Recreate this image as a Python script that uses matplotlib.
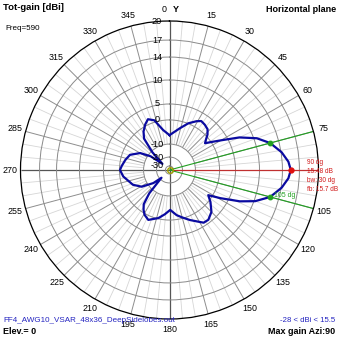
import matplotlib
matplotlib.use("Agg")
import matplotlib.pyplot as plt
import numpy as np

plt.rcParams['font.family'] = ['Liberation Sans', 'DejaVu Sans']

# horizontal-plane pattern: azimuth (deg, clockwise from Y) and total gain (dBi)
azimuth = [0, 14, 22, 29, 33, 38, 43, 47, 50, 53, 57, 60, 65, 70, 75, 81, 86, 90,
           94, 99, 105, 110, 114, 119, 123, 128, 135, 142, 147, 150, 158, 165, 171,
           179, 186, 193, 203, 209, 213, 217, 221, 226, 231, 239, 248, 262, 270, 275,
           283, 291, 300, 306, 311, 316, 321, 326, 332, 337, 343, 351, 360]
gain = [-6.3, -2.9, 0.1, 1.8, 2.6, 2.3, 1.8, 0.6, -1.0, -2.3, 0.6, 2.9, 7.3, 10.5,
        12.48, 14.1, 15.1, 15.48, 15.1, 14.1, 12.48, 10.2, 7.3, 2.5, -1.6, 0.6, 2.9,
        4.1, 4.0, 3.1, 1.2, -0.4, -1.8, -4.2, -2.3, -0.3, 1.3, 0.4, -1.0, -3.0, -8.0,
        -22.0, -14.0, -7.3, -4.4, -1.4, -0.22, -0.9, -2.0, -3.2, -6.7, -12.0, -24.0,
        -11.0, -4.0, -1.5, 0.5, 1.6, 0.6, -4.0, -6.3]

max_az = 90
max_gain = 15.48
beamwidth = 30
front_back = 15.7
freq = 590
gain_range = (-28, 15.5)
file_name = "FF4_AWG10_VSAR_48x36_DeepSidelobes.out"

# log-like radial scale of the dB rings
ring_db = [-33, -30, -20, -10, 0, 5, 10, 14, 17, 20]
ring_pos = [0.0, 0.027, 0.087, 0.174, 0.336, 0.443, 0.604, 0.758, 0.872, 1.0]


def fwd(v):
    return np.interp(np.asarray(v, dtype=float), ring_db, ring_pos)


def inv(v):
    return np.interp(np.asarray(v, dtype=float), ring_pos, ring_db)


W = 339
fig = plt.figure(figsize=(3.39, 3.39), dpi=100)
fig.patch.set_facecolor('white')

cx, cy, R = 169.5, 169.0, 149.0
ax = fig.add_axes([(cx - R) / W, (cy - R) / W, 2 * R / W, 2 * R / W], projection='polar')
ax.set_theta_zero_location('N')
ax.set_theta_direction(-1)
ax.set_yscale('function', functions=(fwd, inv))
ax.set_ylim(-33, 20)

# rings
ax.set_yticks(ring_db[1:-1])
ax.set_yticklabels([])
ax.set_xticks([])
ax.yaxis.grid(True, color='#8a8a8a', lw=0.7)
ax.xaxis.grid(False)
ax.spines['polar'].set_color('black')
ax.spines['polar'].set_linewidth(0.9)

# spokes: light every 5 deg, darker every 15 deg, axes through centre
fine = [a for a in range(0, 360, 5) if a % 15]
ax.vlines(np.deg2rad(fine), -10, 20, color='#d6d6d6', lw=0.6, zorder=1)
coarse = [a for a in range(0, 360, 15) if a % 90]
ax.vlines(np.deg2rad(coarse), -10, 20, color='#8e8e8e', lw=0.7, zorder=1)
ax.vlines(np.deg2rad([0, 180, 270]), -33, 20, color='#555555', lw=0.9, zorder=1)

# beam markers
ax.vlines(np.deg2rad(max_az), -33, 20, color='#c03030', lw=0.9, zorder=2)
hp = [max_az - beamwidth / 2, max_az + beamwidth / 2]
ax.vlines(np.deg2rad(hp), -33, 20, color='#22a022', lw=0.8, zorder=2)

# pattern
ax.plot(np.deg2rad(azimuth), gain, color='#0a0aa0', lw=1.6, zorder=3)
ax.plot(np.deg2rad(hp), [max_gain - 3] * 2, 'o', color='#22a022', ms=3.2, zorder=4)
ax.plot(np.deg2rad(max_az), max_gain, 'o', color='#e01010', ms=3.5, zorder=4)
ax.plot(0, -33, 'o', mfc='none', mec='#a0a000', mew=1.0, ms=4, zorder=4)

# ring labels left of the Y axis
for lv in ring_db[1:]:
    ax.annotate(str(lv), xy=(0, lv), xytext=(-9, 0), textcoords='offset points',
                ha='center', va='center', fontsize=6.6, color='black', zorder=5)

# azimuth labels
for a in range(15, 360, 15):
    if a == 90:
        continue
    t = np.deg2rad(a)
    x = 0.5 + 0.5 * 1.072 * np.sin(t)
    y = 0.5 + 0.5 * 1.072 * np.cos(t)
    ax.text(x, y, str(a), transform=ax.transAxes, ha='center', va='center',
            fontsize=6.4, clip_on=False)
fig.text(167 / W, 1 - 9 / W, "0", ha='right', va='center', fontsize=6.4)
fig.text(173 / W, 1 - 10 / W, "Y", ha='left', va='center', fontsize=6.5, weight='bold')

# beam annotation
ax.text(np.deg2rad(102.5), 14.9, f"{hp[1]:.0f} dg", ha='center', va='center',
        fontsize=5, color='#22a022', zorder=5)
red_lines = [f"{max_az} dg", f"{max_gain} dB", f"bw: {beamwidth} dg", f"fb: {front_back} dB"]
for i, s in enumerate(red_lines):
    fig.text(307 / W, 1 - (162.5 + 9 * i) / W, s, ha='left', va='center',
             fontsize=4.7, color='#d01818')

# header and footer
fig.text(3 / W, 1 - 8 / W, "Tot-gain [dBi]", ha='left', va='center', fontsize=6.8, weight='bold')
fig.text(336 / W, 1 - 10 / W, "Horizontal plane", ha='right', va='center', fontsize=6.5, weight='bold')
fig.text(5 / W, 1 - 29 / W, f"Freq={freq}", ha='left', va='center', fontsize=5.8)
fig.text(3 / W, 1 - 321 / W, file_name, ha='left', va='center', fontsize=5.8, color='#2424c0')
fig.text(3 / W, 1 - 332 / W, "Elev.= 0", ha='left', va='center', fontsize=6.5, weight='bold')
fig.text(335 / W, 1 - 321 / W, f"{gain_range[0]} < dBi < {gain_range[1]}", ha='right',
         va='center', fontsize=5.6, color='#2424c0')
fig.text(335 / W, 1 - 332 / W, f"Max gain Azi:{max_az}", ha='right', va='center',
         fontsize=6.5, weight='bold')

fig.savefig("out.png", dpi=100, facecolor='white')
